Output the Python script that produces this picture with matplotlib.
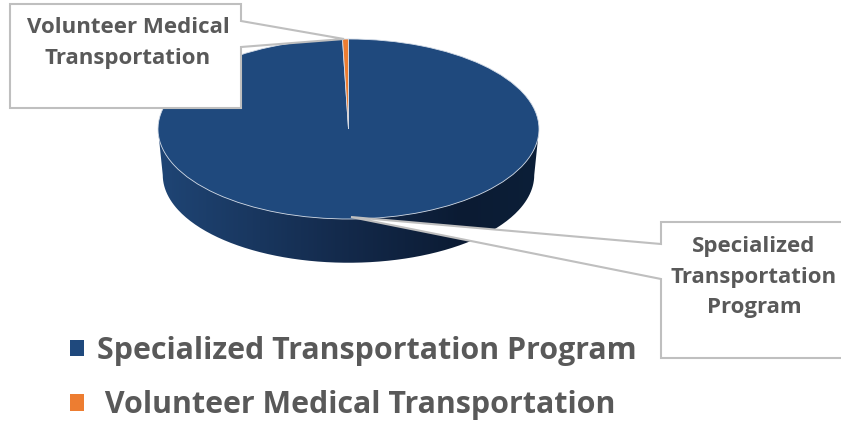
import numpy as np
import matplotlib
matplotlib.use("Agg")
import matplotlib.pyplot as plt
from matplotlib.path import Path
from matplotlib.patches import PathPatch, Polygon
from matplotlib.colors import LinearSegmentedColormap

categories = ["Specialized Transportation Program", "Volunteer Medical Transportation"]
values = [99.5, 0.5]
colors = ["#1F497D", "#ED7D31"]
callout_labels = ["Specialized\nTransportation\nProgram", "Volunteer Medical\nTransportation"]

W, H = 841, 422
TXT = "#595959"
plt.rcParams["font.family"] = ["Open Sans", "DejaVu Sans"]

fig = plt.figure(figsize=(W / 100, H / 100), dpi=100, facecolor="white")

# Pie axes: top ellipse spans px x 158..539, y 39..219; extra room below for the side
L, R, T, B = 158, 539, 39, 219
RY = (B - T) / 2
SHRINK = 0.975
DEPTH = 46 / RY
YMIN = -1 - 46 / RY
ax = fig.add_axes([L / W, 1 - (B + 46) / H, (R - L) / W, (B + 46 - T) / H])
wedges, _ = ax.pie(values, colors=colors, startangle=90, counterclock=False, radius=1,
                   wedgeprops=dict(edgecolor="#D5DDE8", linewidth=0.6, zorder=5))

# Extruded side with horizontal gradient
t = np.linspace(np.pi, 2 * np.pi, 200)
sx = SHRINK * np.cos(t)
sy = SHRINK * np.sin(t) - DEPTH
side = np.vstack([np.column_stack([sx, sy]), [[1, 0], [-1, 0], [sx[0], sy[0]]]])
clip = PathPatch(Path(side), transform=ax.transData, facecolor="none", edgecolor="none")
ax.add_patch(clip)
cmap = LinearSegmentedColormap.from_list("side", [(0, "#1F4575"), (0.5, "#13294A"),
                                                  (0.8, "#0B1B33"), (1, "#0C1F38")])
im = ax.imshow(np.linspace(0, 1, 256)[None, :], cmap=cmap, extent=(-1, 1, YMIN, 0),
               aspect="auto", zorder=1)
im.set_clip_path(clip)
ax.set_aspect("auto")
ax.set_xlim(-1, 1)
ax.set_ylim(YMIN, 1)

# Overlay in pixel coordinates for callouts and legend
ov = fig.add_axes([0, 0, 1, 1], facecolor="none")
ov.set_xlim(0, W)
ov.set_ylim(H, 0)
ov.axis("off")

box_kw = dict(closed=True, facecolor="white", edgecolor="#BFBFBF", linewidth=1.5, joinstyle="miter")
ov.add_patch(Polygon([(10, 4), (241, 4), (241, 21), (344, 39), (241, 47), (241, 108), (10, 108)], **box_kw))
ov.add_patch(Polygon([(661, 222), (845, 222), (845, 358), (661, 358), (661, 279), (351, 217), (661, 244)], **box_kw))

lab_kw = dict(ha="center", va="center", color=TXT, fontweight="bold", fontsize=16, linespacing=1.58)
ov.text(128, 43, callout_labels[1], **lab_kw)
ov.text(754, 277, callout_labels[0], **lab_kw)

leg = ov.legend(wedges, [categories[0], " " + categories[1]], loc="upper left",
                bbox_to_anchor=(70, 336), bbox_transform=ov.transData, frameon=False,
                labelspacing=0.8, handlelength=0.45, handleheight=0.45,
                handletextpad=0.45, borderpad=0, borderaxespad=0, labelcolor=TXT,
                prop=dict(family="Open Sans", weight="bold", size=21.9))
for h in leg.legend_handles:
    h.set_edgecolor("none")

fig.savefig("out.png", dpi=100)
